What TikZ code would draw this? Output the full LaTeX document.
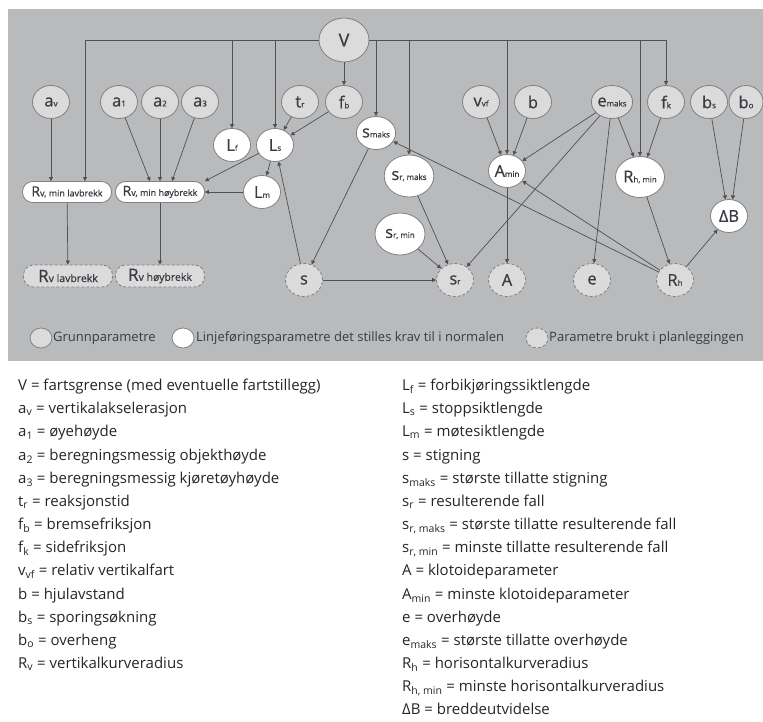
\documentclass[tikz,border=0pt]{standalone}
\usepackage{fontspec}
\setmainfont{Open Sans}
\newfontfamily\nodefont[FakeBold=0.6]{Open Sans}
\usetikzlibrary{shapes.geometric,arrows.meta}
\definecolor{panelgray}{RGB}{185,186,188}
\definecolor{nodegray}{RGB}{219,219,220}
\definecolor{rimgray}{RGB}{128,128,130}
\definecolor{linegray}{RGB}{80,80,82}
\definecolor{inktext}{RGB}{58,58,66}
\newcommand{\smidx}[1]{{\fontsize{8}{8}\selectfont #1}}
\newcommand{\pillidx}[1]{{\fontsize{9}{9}\selectfont #1}}
\begin{document}
\begin{tikzpicture}[x=1pt, y=-1pt,
            param/.style={ellipse, draw=rimgray, line width=0.8pt, minimum width=37pt, minimum height=33pt,
                inner sep=0pt, text=inktext, font=\nodefont\fontsize{16.5}{16.5}\selectfont},
            grunn/.style={param, fill=nodegray},
            krav/.style={param, fill=white},
            plan/.style={param, fill=nodegray, dash pattern=on 3pt off 2pt},
            pill/.style={rectangle, rounded corners=10pt, draw=rimgray, line width=0.8pt, minimum width=89pt,
                minimum height=21pt, inner sep=0pt, text=inktext, font=\nodefont\fontsize{14}{14}\selectfont},
            conn/.style={draw=linegray, line width=0.7pt, -{Triangle[length=4pt, width=4pt]}},
            lgd/.style={anchor=west, inner sep=0pt, text=inktext, font=\fontsize{13}{14}\selectfont},
            defn/.style={anchor=west, inner sep=0pt, text height=11pt, text depth=3.5pt, text=black!85,
                font=\fontsize{15}{16}\selectfont}
        ]
            \fill[white] (0,0) rectangle (763,722);
            \useasboundingbox (0,0) rectangle (763,722);
            \fill[panelgray] (8,9) rectangle (763,361);

            \node[grunn, minimum width=50pt, minimum height=44pt, font=\nodefont\fontsize{18}{18}\selectfont] (V) at (344,40) {V};
            \node[grunn] (av) at (51,102) {a\smidx{v}};
            \node[grunn] (a1) at (119,102) {a\smidx{1}};
            \node[grunn] (a2) at (160,102) {a\smidx{2}};
            \node[grunn] (a3) at (200,102) {a\smidx{3}};
            \node[grunn] (tr) at (300,102) {t\smidx{r}};
            \node[grunn] (fb) at (344,102) {f\smidx{b}};
            \node[grunn] (vvf) at (481,102) {v\smidx{vf}};
            \node[grunn] (b) at (533,102) {b};
            \node[grunn] (emaks) at (612,102) {e\smidx{maks}};
            \node[grunn] (fk) at (666,102) {f\smidx{k}};
            \node[grunn] (bs) at (709,102) {b\smidx{s}};
            \node[grunn, minimum width=34pt] (bo) at (746,102) {b\smidx{o}};

            \node[krav] (Lf) at (232,145) {L\smidx{f}};
            \node[krav] (Ls) at (275,145) {L\smidx{s}};
            \node[krav] (Lm) at (262,192) {L\smidx{m}};
            \node[krav] (smaks) at (376,133) {s\smidx{maks}};
            \node[krav, minimum width=48pt, minimum height=42pt] (srmaks) at (409,176) {s\smidx{r, maks}};
            \node[krav, minimum width=50pt, minimum height=42pt] (srmin) at (400,234) {s\smidx{r, min}};
            \node[krav] (Amin) at (507,171) {A\smidx{min}};
            \node[krav, minimum width=49pt, minimum height=41pt] (Rhmin) at (640,177) {R\smidx{h, min}};
            \node[krav] (DB) at (729,216) {ΔB};

            \node[plan] (s) at (304,280) {s};
            \node[plan] (sr) at (455,280) {s\smidx{r}};
            \node[plan] (A) at (507,280) {A};
            \node[plan] (e) at (592,280) {e};
            \node[plan] (Rh) at (675,280) {R\smidx{h}};

            \node[pill, fill=white] (Rlav) at (67,192) {R\pillidx{v, min lavbrekk}};
            \node[pill, fill=white] (Rhoy) at (160,192) {R\pillidx{v, min høybrekk}};
            \node[pill, fill=nodegray, dash pattern=on 3pt off 2pt, minimum height=22pt, font=\nodefont\fontsize{17}{17}\selectfont] (Rvlav) at (68,276) {R{\fontsize{10.5}{10.5}\selectfont v lavbrekk}};
            \node[pill, fill=nodegray, dash pattern=on 3pt off 2pt, minimum height=22pt, font=\nodefont\fontsize{17}{17}\selectfont] (Rvhoy) at (160,276) {R{\fontsize{10.5}{10.5}\selectfont v høybrekk}};

            \draw[conn] (V) -| ([xshift=18pt]Rlav.north);
            \draw[conn] (V) -| (Lf);
            \draw[conn] (V) -| (Ls);
            \draw[conn] (V) -- (fb);
            \draw[conn] (V) -| (smaks);
            \draw[conn] (V) -| (srmaks);
            \draw[conn] (V) -| (Amin);
            \draw[conn] (V) -| (Rhmin);
            \draw[conn] (V) -| (fk);

            \draw[conn] (av) -- (av |- Rlav.north);
            \draw[conn] (a1) -- ([xshift=-10pt]Rhoy.north);
            \draw[conn] (a2) -- (Rhoy);
            \draw[conn] (a3) -- ([xshift=12pt]Rhoy.north);
            \draw[conn] (Ls) -- (Rhoy.north east);
            \draw[conn] (Lm) -- (Rhoy);
            \draw[conn] (Ls) -- (Lm);
            \draw[conn] (tr) -- (Ls);
            \draw[conn] (fb) -- (Ls);
            \draw[conn] (s) -- (Ls);
            \draw[conn] (smaks) -- (s);
            \draw[conn] (s) -- (sr);
            \draw[conn] (srmaks) -- (sr);
            \draw[conn] (srmin) -- (sr);
            \draw[conn] (emaks) -- (sr);
            \draw[conn] (emaks) -- (Amin);
            \draw[conn] (emaks) -- (Rhmin.107);
            \draw[conn] (emaks) -- (e);
            \draw[conn] (vvf) -- (Amin.110);
            \draw[conn] (b) -- (Amin.68);
            \draw[conn] (Amin) -- (A);
            \draw[conn] (fk) -- (Rhmin.70);
            \draw[conn] (Rhmin) -- (Rh);
            \draw[conn] (Rh) -- (Amin);
            \draw[conn] (Rh) -- (smaks);
            \draw[conn] (Rh) -- (DB);
            \draw[conn] (bs) -- (DB.102);
            \draw[conn] (bo) -- (DB.78);
            \draw[conn] (Rlav) -- (Rvlav);
            \draw[conn] (Rhoy) -- (Rvhoy);

            \node[grunn, minimum width=22pt, minimum height=20pt] (k1) at (41,338) {};
            \node[lgd] (t1) at (53,338) {Grunnparametre};
            \node[krav, minimum width=22pt, minimum height=20pt] (k2) at (183,338) {};
            \node[lgd] (t2) at (196,338) {Linjeføringsparametre det stilles krav til i normalen};
            \node[plan, minimum width=22pt, minimum height=20pt] (k3) at (537,338) {};
            \node[lgd] (t3) at (549,338) {Parametre brukt i planleggingen};

            \node[defn] (l1) at (18,387) {V = fartsgrense (med eventuelle fartstillegg)};
            \node[defn] (l2) at (18,410) {a\textsubscript{v} = vertikalakselerasjon};
            \node[defn] (l3) at (18,433) {a\textsubscript{1} = øyehøyde};
            \node[defn] (l4) at (18,457) {a\textsubscript{2} = beregningsmessig objekthøyde};
            \node[defn] (l5) at (18,480) {a\textsubscript{3} = beregningsmessig kjøretøyhøyde};
            \node[defn] (l6) at (18,503) {t\textsubscript{r} = reaksjonstid};
            \node[defn] (l7) at (18,526) {f\textsubscript{b} = bremsefriksjon};
            \node[defn] (l8) at (18,549) {f\textsubscript{k} = sidefriksjon};
            \node[defn] (l9) at (18,572) {v\textsubscript{vf} = relativ vertikalfart};
            \node[defn] (l10) at (18,596) {b = hjulavstand};
            \node[defn] (l11) at (18,619) {b\textsubscript{s} = sporingsøkning};
            \node[defn] (l12) at (18,642) {b\textsubscript{o} = overheng};
            \node[defn] (l13) at (18,665) {R\textsubscript{v} = vertikalkurveradius};

            \node[defn] (r1) at (402,387) {L\textsubscript{f} = forbikjøringssiktlengde};
            \node[defn] (r2) at (402,410) {L\textsubscript{s} = stoppsiktlengde};
            \node[defn] (r3) at (402,433) {L\textsubscript{m} = møtesiktlengde};
            \node[defn] (r4) at (402,457) {s = stigning};
            \node[defn] (r5) at (402,480) {s\textsubscript{maks} = største tillatte stigning};
            \node[defn] (r6) at (402,503) {s\textsubscript{r} = resulterende fall};
            \node[defn] (r7) at (402,526) {s\textsubscript{r, maks} = største tillatte resulterende fall};
            \node[defn] (r8) at (402,549) {s\textsubscript{r, min} = minste tillatte resulterende fall};
            \node[defn] (r9) at (402,572) {A = klotoideparameter};
            \node[defn] (r10) at (402,596) {A\textsubscript{min} = minste klotoideparameter};
            \node[defn] (r11) at (402,619) {e = overhøyde};
            \node[defn] (r12) at (402,642) {e\textsubscript{maks} = største tillatte overhøyde};
            \node[defn] (r13) at (402,665) {R\textsubscript{h} = horisontalkurveradius};
            \node[defn] (r14) at (402,688) {R\textsubscript{h, min} = minste horisontalkurveradius};
            \node[defn] (r15) at (402,711) {ΔB = breddeutvidelse};
        \end{tikzpicture}
\end{document}
